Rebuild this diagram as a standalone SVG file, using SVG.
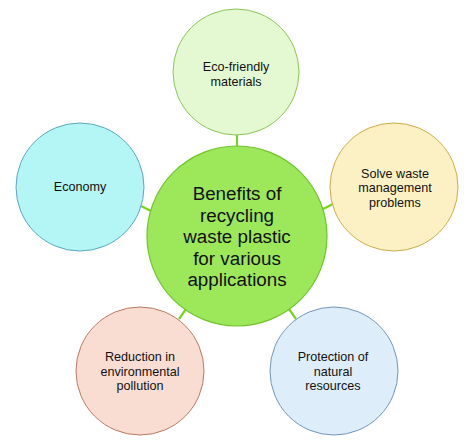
<svg xmlns="http://www.w3.org/2000/svg" width="474" height="445" viewBox="0 0 474 445">
<style>
text{font-family:"Liberation Sans",Arial,sans-serif;fill:#111;text-anchor:middle}
.s{font-size:12.6px}
.c{font-size:18.8px}
.conn line{stroke:#7ed321;stroke-width:2.2}
</style>
<rect width="474" height="445" fill="#fff"/>
<g id="connectors" class="conn">
<line x1="237" y1="134" x2="237" y2="147"/>
<line x1="141" y1="206" x2="151" y2="211"/>
<line x1="333" y1="204" x2="323" y2="209"/>
<line x1="179" y1="319" x2="186" y2="309"/>
<line x1="296" y1="319" x2="289" y2="309"/>
</g>
<g id="center">
<circle cx="237" cy="236" r="90" fill="#9de85a" stroke="#72c22e" stroke-width="1.2"/>
<text class="c" x="237" y="200">Benefits of</text>
<text class="c" x="237" y="221.6">recycling</text>
<text class="c" x="237" y="243.2">waste plastic</text>
<text class="c" x="237" y="264.8">for various</text>
<text class="c" x="237" y="286.4">applications</text>
</g>
<g id="eco">
<circle cx="236" cy="72" r="63" fill="#e4f9d2" stroke="#8cc45a" stroke-width="1"/>
<text class="s" x="236" y="71">Eco-friendly</text>
<text class="s" x="236" y="85.5">materials</text>
</g>
<g id="economy">
<circle cx="80" cy="187" r="64" fill="#b4f5f5" stroke="#5aa8bc" stroke-width="1"/>
<text class="s" x="80" y="191">Economy</text>
</g>
<g id="solve">
<circle cx="394" cy="187" r="64" fill="#fcf1c4" stroke="#c9ad4a" stroke-width="1"/>
<text class="s" x="395" y="177.5">Solve waste</text>
<text class="s" x="395" y="192">management</text>
<text class="s" x="395" y="206.5">problems</text>
</g>
<g id="reduction">
<circle cx="140" cy="371" r="64" fill="#f9ddd2" stroke="#b87a64" stroke-width="1"/>
<text class="s" x="140" y="361">Reduction in</text>
<text class="s" x="140" y="375.5">environmental</text>
<text class="s" x="140" y="390">pollution</text>
</g>
<g id="protection">
<circle cx="334" cy="371" r="64" fill="#ddedfa" stroke="#7496b8" stroke-width="1"/>
<text class="s" x="333" y="361">Protection of</text>
<text class="s" x="333" y="375.5">natural</text>
<text class="s" x="333" y="390">resources</text>
</g>
</svg>
